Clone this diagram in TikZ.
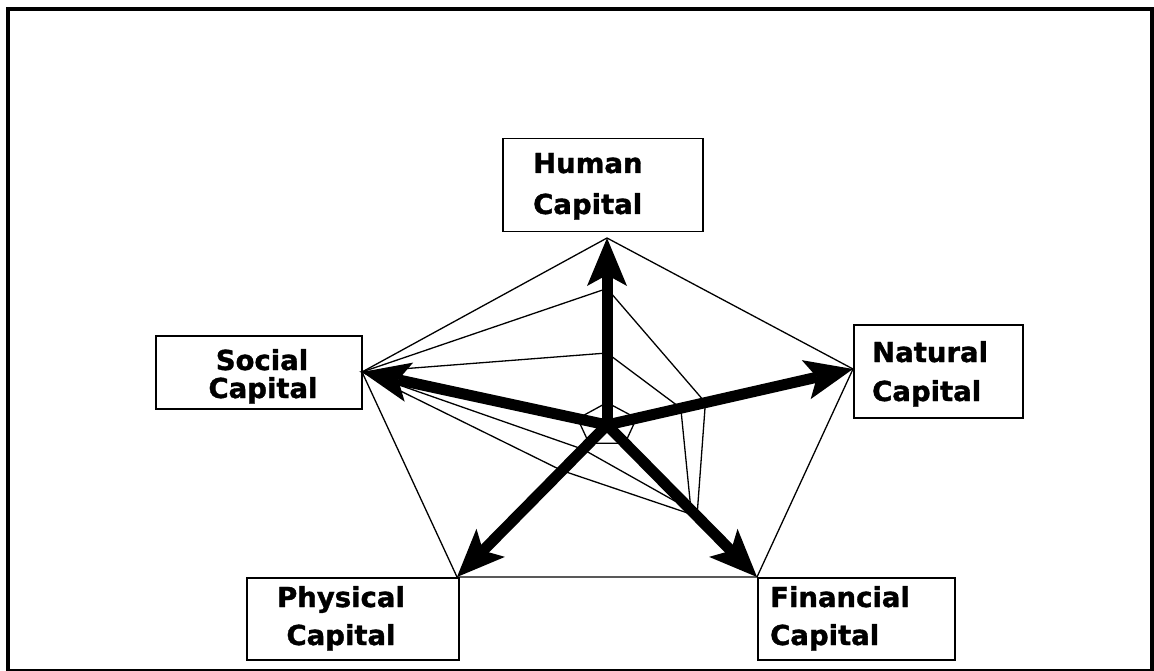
\documentclass[tikz,border=0pt]{standalone}
\usepackage{fontspec}
\setmainfont{DejaVu Sans}
\newfontfamily\capfont[FakeBold=1.3]{DejaVu Sans Bold}
\usetikzlibrary{arrows.meta,calc}

\tikzset{
  capbox/.style args={#1x#2}{draw, line width=1.5pt, anchor=north west,
    inner sep=0pt, minimum width=#1pt, minimum height=#2pt},
  captext/.style={font=\capfont\fontsize{27.5}{32}\selectfont, inner sep=0pt},
  web/.style={line width=1.3pt, line join=miter},
  spoke/.style={line width=11pt,
    -{Stealth[length=48pt,width=40pt,inset=11pt,line width=0pt]}}
}

\begin{document}
\begin{tikzpicture}[x=1pt, y=-1pt]
  \useasboundingbox (0,0) rectangle (1154,671);
  % frame
  \draw[line width=4pt] (8,9) rectangle (1152,671);

  % pentagon corners
  \coordinate (c) at (607,425);
  \coordinate (hum) at (607,238);
  \coordinate (nat) at (853,369);
  \coordinate (fin) at (757,577);
  \coordinate (phy) at (457,577);
  \coordinate (soc) at (362,372);

  % outer pentagon and webs (human/natural/financial/physical/social)
  \draw[web] (hum) -- (nat) -- (fin) -- (phy) -- (soc) -- cycle;
  \foreach \h/\n/\f/\p/\s in {0.12/0.12/0.12/0.12/0.12,
                              0.73/0.4/0.6/0.3/1,
                              0.385/0.3/0.56/0.16/1} {
    \draw[web] ($(c)!\h!(hum)$) -- ($(c)!\n!(nat)$) -- ($(c)!\f!(fin)$)
      -- ($(c)!\p!(phy)$) -- ($(c)!\s!(soc)$) -- cycle;
  }

  % arrows
  \foreach \v in {hum,nat,fin,phy,soc} {
    \draw[spoke] (c) -- (\v);
  }

  % boxes
  \node[capbox=200x93] (humbox) at (502,138) {};
  \node[capbox=206x73] (socbox) at (155,335) {};
  \node[capbox=169x93] (natbox) at (853,324) {};
  \node[capbox=212x82] (phybox) at (246,577) {};
  \node[capbox=197x82] (finbox) at (757,577) {};

  % labels
  \node[captext, anchor=base west] (hum1) at (533,173) {Human};
  \node[captext, anchor=base west] (hum2) at (533,214) {Capital};
  \node[captext, anchor=base] (soc1) at (262,370) {Social};
  \node[captext, anchor=base] (soc2) at (263,398) {Capital};
  \node[captext, anchor=base west] (nat1) at (872,362) {Natural};
  \node[captext, anchor=base west] (nat2) at (872,401) {Capital};
  \node[captext, anchor=base] (phy1) at (341,607) {Physical};
  \node[captext, anchor=base] (phy2) at (341,645) {Capital};
  \node[captext, anchor=base west] (fin1) at (770,607) {Financial};
  \node[captext, anchor=base west] (fin2) at (770,645) {Capital};
\end{tikzpicture}
\end{document}
